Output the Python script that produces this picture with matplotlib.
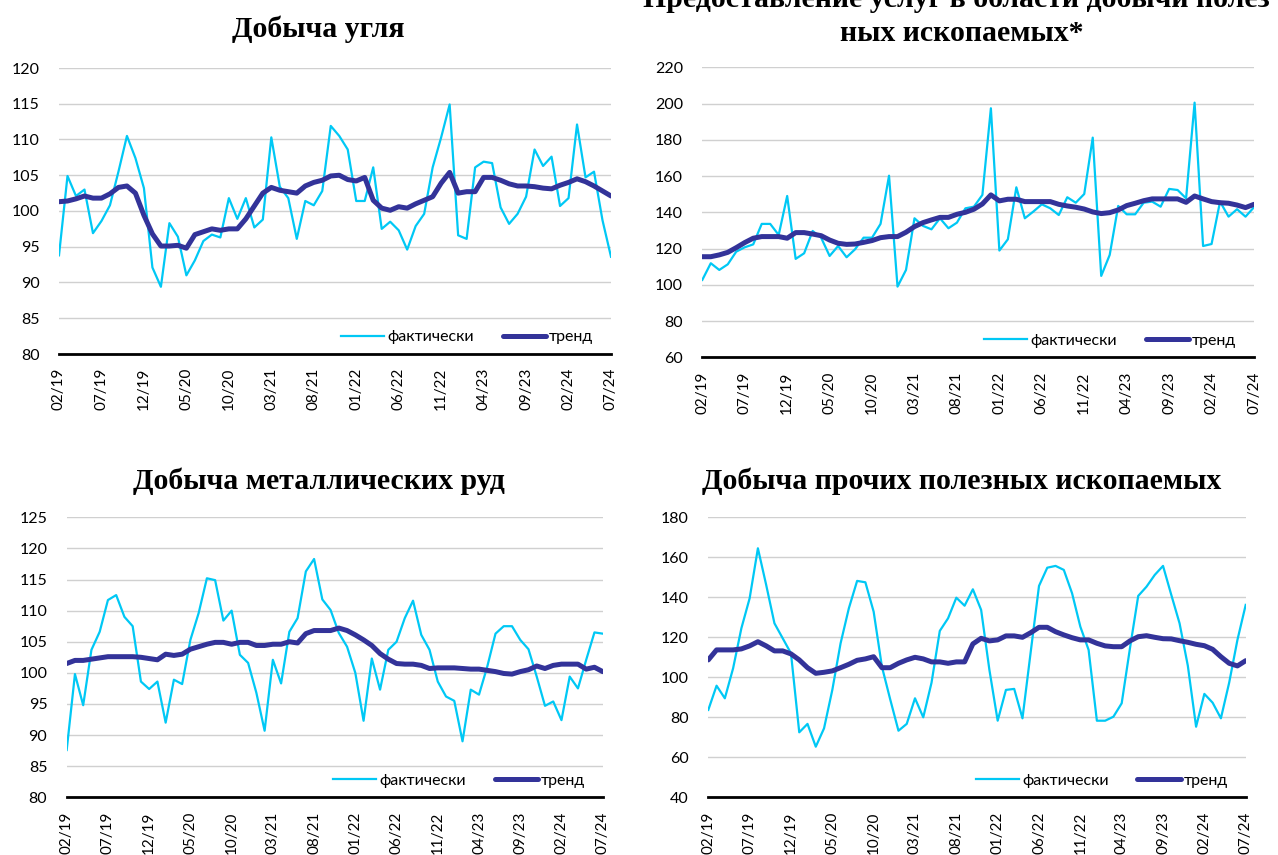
import numpy as np
import matplotlib
matplotlib.use('Agg')
import matplotlib.pyplot as plt
from matplotlib.ticker import MultipleLocator

# months 02/19 .. 07/24
tick_labels = ['02/19', '07/19', '12/19', '05/20', '10/20', '03/21', '08/21',
               '01/22', '06/22', '11/22', '04/23', '09/23', '02/24', '07/24']

# Добыча угля
coal_fact = [93.8, 104.9, 102.1, 103.0, 96.9, 98.6, 100.8, 105.5, 110.5, 107.4,
             103.2, 92.1, 89.4, 98.3, 96.4, 91.0, 93.1, 95.8, 96.7, 96.3,
             101.8, 98.9, 101.8, 97.7, 98.8, 110.3, 103.4, 101.8, 96.1, 101.4,
             100.8, 102.8, 111.9, 110.5, 108.6, 101.4, 101.4, 106.1, 97.5, 98.5,
             97.3, 94.6, 97.9, 99.6, 106.1, 110.3, 114.9, 96.6, 96.1, 106.1,
             106.9, 106.7, 100.5, 98.2, 99.6, 102.0, 108.6, 106.3, 107.6, 100.7,
             101.8, 112.1, 104.7, 105.5, 98.7, 93.6]
coal_trend = [101.3, 101.4, 101.7, 102.1, 101.8, 101.8, 102.4, 103.3, 103.5, 102.5,
              99.4, 96.8, 95.1, 95.1, 95.2, 94.8, 96.7, 97.1, 97.5, 97.3,
              97.5, 97.5, 98.9, 100.7, 102.5, 103.3, 102.9, 102.7, 102.5, 103.5,
              104.0, 104.3, 104.9, 105.0, 104.4, 104.2, 104.7, 101.5, 100.4, 100.1,
              100.6, 100.4, 101.0, 101.5, 102.0, 103.9, 105.4, 102.5, 102.7, 102.7,
              104.7, 104.7, 104.3, 103.8, 103.5, 103.5, 103.4, 103.2, 103.1, 103.6,
              104.0, 104.5, 104.1, 103.5, 102.8, 102.1]

# Предоставление услуг в области добычи полезных ископаемых
serv_fact = [102.7, 111.9, 108.2, 111.3, 118.3, 120.7, 122.3, 133.6, 133.6, 127.5,
             149.0, 114.3, 117.4, 129.7, 126.0, 115.9, 121.4, 115.2, 119.6, 126.0,
             126.0, 133.6, 160.2, 99.0, 108.2, 136.7, 132.5, 130.6, 136.7, 131.2,
             134.3, 142.2, 143.1, 149.6, 197.4, 118.9, 125.1, 153.8, 136.7, 140.4,
             144.4, 142.2, 138.5, 148.3, 145.3, 150.1, 181.2, 104.9, 116.5, 143.5,
             138.9, 138.9, 145.3, 145.9, 143.1, 152.9, 152.3, 147.7, 200.5, 121.4,
             122.5, 145.9, 137.6, 141.7, 137.6, 142.8]
serv_trend = [115.5, 115.5, 116.5, 117.9, 120.5, 123.3, 125.7, 126.6, 126.6, 126.6,
              125.7, 128.8, 128.8, 128.0, 127.1, 124.7, 122.9, 122.3, 122.5, 123.4,
              124.4, 126.0, 126.6, 126.6, 129.0, 132.1, 134.3, 135.8, 137.2, 137.2,
              138.9, 140.0, 141.7, 144.6, 149.6, 146.3, 147.2, 147.2, 145.9, 145.9,
              145.9, 145.9, 144.4, 143.5, 142.8, 141.8, 140.2, 139.3, 139.8, 141.3,
              143.7, 145.0, 146.4, 147.4, 147.4, 147.4, 147.4, 145.5, 149.0, 147.4,
              145.9, 145.3, 145.0, 144.0, 142.6, 144.4]

# Добыча металлических руд
metal_fact = [87.6, 99.8, 94.8, 103.7, 106.6, 111.7, 112.5, 109.0, 107.5, 98.6,
              97.4, 98.6, 92.0, 98.9, 98.2, 105.3, 109.6, 115.2, 114.9, 108.4,
              110.0, 102.9, 101.6, 96.8, 90.7, 102.1, 98.3, 106.6, 108.8, 116.3,
              118.3, 111.8, 110.1, 106.4, 104.2, 100.0, 92.3, 102.3, 97.3, 103.7,
              105.0, 108.8, 111.6, 106.1, 103.7, 98.6, 96.2, 95.5, 89.0, 97.3,
              96.5, 101.0, 106.3, 107.5, 107.5, 105.3, 103.8, 99.4, 94.7, 95.4,
              92.4, 99.4, 97.5, 102.1, 106.5, 106.3]
metal_trend = [101.5, 102.0, 102.0, 102.2, 102.4, 102.6, 102.6, 102.6, 102.6, 102.5,
               102.3, 102.1, 103.0, 102.8, 103.0, 103.8, 104.2, 104.6, 104.9, 104.9,
               104.6, 104.9, 104.9, 104.4, 104.4, 104.6, 104.6, 105.0, 104.8, 106.3,
               106.8, 106.8, 106.8, 107.2, 106.8, 106.1, 105.3, 104.4, 103.1, 102.2,
               101.5, 101.4, 101.4, 101.2, 100.7, 100.8, 100.8, 100.8, 100.7, 100.6,
               100.6, 100.4, 100.2, 99.9, 99.8, 100.2, 100.5, 101.1, 100.7, 101.2,
               101.4, 101.4, 101.4, 100.6, 100.9, 100.2]

# Добыча прочих полезных ископаемых
other_fact = [83.7, 95.8, 89.5, 104.5, 124.5, 139.5, 164.5, 146.2, 127.0, 119.5,
              112.0, 72.5, 76.7, 65.3, 74.5, 93.7, 117.0, 134.5, 148.2, 147.5,
              132.8, 105.3, 89.0, 73.3, 76.7, 89.5, 80.0, 97.3, 123.2, 129.5,
              139.8, 135.8, 144.0, 133.7, 103.7, 78.3, 93.7, 94.2, 79.5, 112.8,
              145.7, 154.8, 155.7, 153.7, 142.0, 125.3, 113.7, 78.3, 78.3, 80.3,
              87.0, 114.5, 140.7, 145.3, 151.2, 155.7, 141.2, 127.0, 105.8, 75.3,
              91.7, 87.3, 79.5, 97.3, 118.7, 136.2]
other_trend = [108.7, 113.7, 113.7, 113.7, 114.2, 115.7, 117.8, 115.7, 113.2, 113.2,
               111.7, 108.7, 104.8, 102.0, 102.5, 103.2, 104.8, 106.5, 108.5, 109.2,
               110.3, 104.8, 104.8, 107.0, 108.7, 110.0, 109.2, 107.7, 107.7, 107.0,
               107.7, 107.7, 116.7, 119.5, 118.2, 118.7, 120.7, 120.7, 120.0, 122.3,
               125.0, 125.0, 122.8, 121.2, 119.8, 118.7, 118.7, 117.0, 115.7, 115.3,
               115.3, 118.2, 120.3, 120.8, 120.0, 119.3, 119.2, 118.3, 117.5, 116.5,
               115.8, 114.0, 110.3, 107.0, 105.7, 108.3]

c_fact = '#00C8F5'
c_trend = '#333399'
tickfont = 'Lato'

panels = [
    # data, trend, ylim, step, axes rect
    (coal_fact, coal_trend, (80, 120), 5, [59/1278, 1-354/855, 552/1278, 286/855]),
    (serv_fact, serv_trend, (60, 220), 20, [702.3/1278, 1-357.3/855, 551.7/1278, 290/855]),
    (metal_fact, metal_trend, (80, 125), 5, [66.7/1278, 1-797.3/855, 536/1278, 280/855]),
    (other_fact, other_trend, (40, 180), 20, [708.3/1278, 1-797.3/855, 537.4/1278, 280/855]),
]

fig = plt.figure(figsize=(12.78, 8.55), dpi=100)

for fact, trend, ylim, step, rect in panels:
    ax = fig.add_axes(rect)
    x = np.arange(len(fact))
    ax.plot(x, fact, color=c_fact, lw=1.6, label='фактически')
    ax.plot(x, trend, color=c_trend, lw=3.6, label='тренд', solid_capstyle='round')
    ax.set_xlim(0, len(fact) - 1)
    ax.set_ylim(*ylim)
    ax.yaxis.set_major_locator(MultipleLocator(step))
    ax.set_xticks(np.arange(0, len(fact), 5))
    ax.set_xticklabels(tick_labels, rotation=90, fontsize=11, family=tickfont)
    for lab in ax.get_yticklabels():
        lab.set_family(tickfont)
        lab.set_fontsize(11.5)
    ax.grid(axis='y', color='#D0D0D0', lw=1)
    ax.set_axisbelow(True)
    for s in ['top', 'right', 'left']:
        ax.spines[s].set_visible(False)
    ax.spines['bottom'].set_linewidth(2)
    ax.spines['bottom'].set_color('black')
    ax.tick_params(length=0, axis='x', pad=10)
    ax.tick_params(length=0, axis='y', pad=14)
    ax.legend(loc='lower right', bbox_to_anchor=(0.985, 0.0), ncol=2, frameon=False,
              prop={'family': tickfont, 'size': 11.5}, handlelength=2.7,
              columnspacing=1.8, handletextpad=0.2, borderaxespad=0.2)

tfont = dict(family='Liberation Serif', weight='bold', fontsize=21.5, ha='center', va='baseline')
fig.text(318/1278, 1-37/855, 'Добыча угля', **tfont)
fig.text(956/1278, 1-7/855, 'Предоставление услуг в области добычи полез', **tfont)
fig.text(962/1278, 1-41/855, 'ных ископаемых*', **tfont)
fig.text(319/1278, 1-489/855, 'Добыча металлических руд', **tfont)
fig.text(962/1278, 1-489/855, 'Добыча прочих полезных ископаемых', **tfont)

plt.savefig('out.png', dpi=100)
plt.close()
